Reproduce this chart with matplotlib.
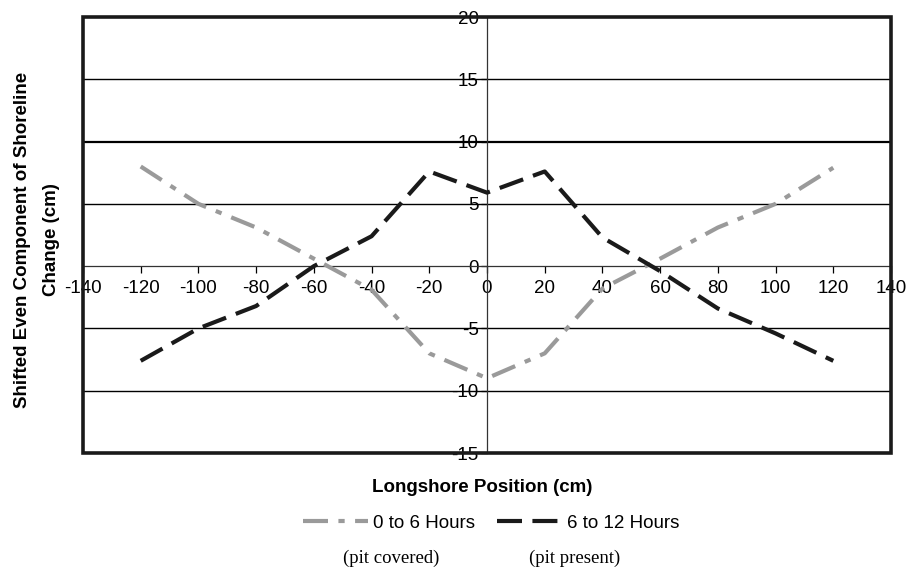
import matplotlib
matplotlib.use("Agg")
import matplotlib.pyplot as plt
from matplotlib.patches import Rectangle

plt.rcParams['font.family'] = ['Liberation Sans', 'DejaVu Sans']

positions = [-120, -100, -80, -60, -40, -20, 0, 20, 40, 60, 80, 100, 120]
hours_0_6 = [8.0, 5.0, 3.1, 0.6, -1.9, -7.0, -9.0, -7.0, -1.8, 0.6, 3.1, 5.0, 7.9]
hours_6_12 = [-7.6, -5.0, -3.2, 0.0, 2.4, 7.6, 5.9, 7.6, 2.3, -0.4, -3.4, -5.4, -7.6]
xticks = list(range(-140, 141, 20))
yticks = list(range(-15, 21, 5))

fig = plt.figure(figsize=(9.08, 5.69), dpi=100)
ax = fig.add_axes([83/908, 1-453/569, (891-83)/908, (453-17)/569])
ax.set_xlim(-140, 140)
ax.set_ylim(-15, 20)

for y in [-10, -5, 5, 15]:
    ax.axhline(y, color='black', lw=1.0, zorder=1)
ax.axhline(10, color='black', lw=1.6, zorder=1)

ax.plot(positions, hours_0_6, color='#9a9a9a', lw=3.0, dashes=(6, 2.5, 1.5, 2.5),
        label='0 to 6 Hours', zorder=3, dash_capstyle='butt')
ax.plot(positions, hours_6_12, color='#1a1a1a', lw=3.0, dashes=(6, 2.5),
        label='6 to 12 Hours', zorder=4, dash_capstyle='butt')

ax.spines['left'].set_position(('data', 0))
ax.spines['bottom'].set_position(('data', 0))
ax.spines['right'].set_visible(False)
ax.spines['top'].set_visible(False)
for s in ['left', 'bottom']:
    ax.spines[s].set_linewidth(0.9)
    ax.spines[s].set_color('#333333')
    ax.spines[s].set_zorder(2)

ax.add_patch(Rectangle((0, 0), 1, 1, transform=ax.transAxes, fill=False,
                       lw=2.6, edgecolor='#1a1a1a', zorder=5, clip_on=False))

ax.set_xticks(xticks)
ax.set_xticklabels([str(t) for t in xticks])
ax.set_yticks(yticks)
ax.set_yticklabels([str(t) for t in yticks])
ax.tick_params(axis='x', direction='out', length=5, width=0.9, labelsize=13.5, pad=5)
ax.tick_params(axis='y', direction='out', length=4, width=0.9, labelsize=13.5, pad=2)

fig.text(37/908, 1-240/569, 'Shifted Even Component of Shoreline\nChange (cm)',
         rotation=90, ha='center', va='center', fontsize=13.5, fontweight='bold',
         linespacing=1.95, multialignment='center')
fig.text(482/908, 1-487/569, 'Longshore Position (cm)', ha='center', va='center',
         fontsize=13.5, fontweight='bold')

leg = fig.legend(loc='center', bbox_to_anchor=(491/908, 1-523/569), ncol=2,
                 frameon=False, fontsize=13.5, handlelength=3.45, columnspacing=1.17,
                 handletextpad=0.27, borderpad=0, borderaxespad=0)

fig.text(391/908, 1-558/569, '(pit covered)', ha='center', va='center',
         fontsize=13.5, family=['Liberation Serif', 'DejaVu Serif'])
fig.text(575/908, 1-558/569, '(pit present)', ha='center', va='center',
         fontsize=13.5, family=['Liberation Serif', 'DejaVu Serif'])

fig.savefig('out.png', dpi=100)
